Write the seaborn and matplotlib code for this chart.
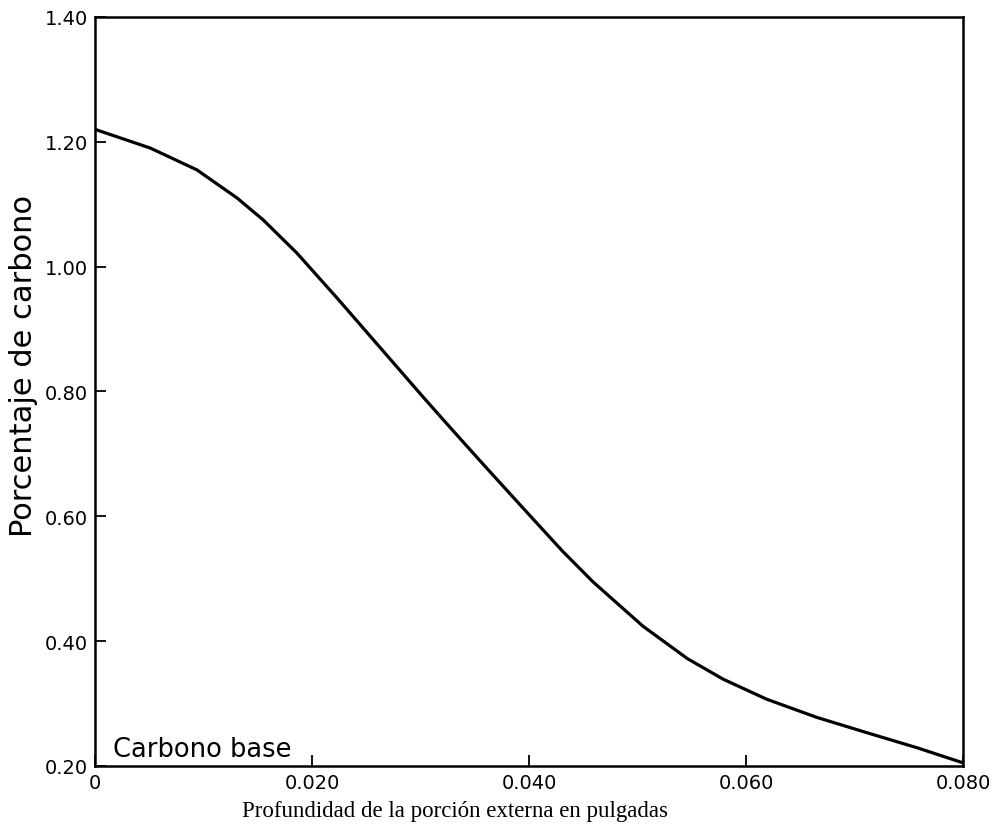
import matplotlib
matplotlib.use("Agg")
import matplotlib.pyplot as plt
import seaborn as sns

# curve
depth = [0.0, 0.0051, 0.0094, 0.0131, 0.0155, 0.0186, 0.0223, 0.0265, 0.0302,
         0.0327, 0.0358, 0.0392, 0.0431, 0.0459, 0.0505, 0.0546, 0.0579,
         0.0619, 0.0665, 0.0712, 0.0758, 0.0800]
carbon = [1.220, 1.190, 1.155, 1.110, 1.075, 1.022, 0.950, 0.866, 0.792,
          0.743, 0.683, 0.618, 0.544, 0.495, 0.424, 0.372, 0.339,
          0.307, 0.278, 0.253, 0.229, 0.205]

x_ticks = [0, 0.020, 0.040, 0.060, 0.080]
x_tick_labels = ["0", "0.020", "0.040", "0.060", "0.080"]
y_ticks = [0.20, 0.40, 0.60, 0.80, 1.00, 1.20, 1.40]
y_tick_labels = ["0.20", "0.40", "0.60", "0.80", "1.00", "1.20", "1.40"]

sns.set_style("ticks")
plt.rcParams['font.family'] = ['DejaVu Sans']

fig = plt.figure(figsize=(9.99, 8.28), dpi=100)
ax = fig.add_axes([0.095, 0.0737, 0.869, 0.9046])

sns.lineplot(x=depth, y=carbon, ax=ax, color="black", linewidth=2.3)

ax.set_xlim(0, 0.080)
ax.set_ylim(0.20, 1.40)
ax.set_xticks(x_ticks)
ax.set_xticklabels(x_tick_labels)
ax.set_yticks(y_ticks)
ax.set_yticklabels(y_tick_labels)
ax.tick_params(axis="both", direction="in", length=8, width=1.3,
               labelsize=14, colors="black", pad=5)

for s in ax.spines.values():
    s.set_linewidth(1.8)
    s.set_color("black")
    s.set_visible(True)

ax.set_ylabel("Porcentaje de carbono", fontsize=22, labelpad=5, y=0.535,
              color="black")
ax.set_xlabel("Profundidad de la porción externa en pulgadas",
              fontsize=16.5, fontfamily=["Liberation Serif"], x=0.415,
              labelpad=6, color="black")

ax.text(0.0017, 0.227, "Carbono base", fontsize=18.5, color="black",
        ha="left", va="center")

fig.savefig("out.png", dpi=100)
